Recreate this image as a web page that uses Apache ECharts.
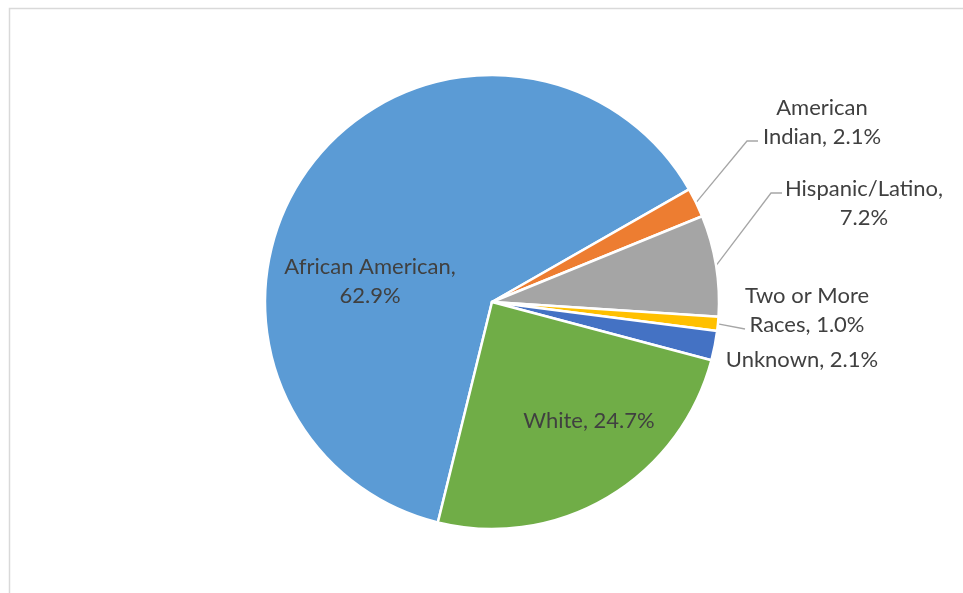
<!DOCTYPE html>
<html>
<head>
<meta charset="utf-8">
<script src="https://cdn.jsdelivr.net/npm/echarts@6/dist/echarts.min.js"></script>
<style>
  html, body { margin: 0; padding: 0; background: #fff; }
  #chart { width: 963px; height: 593px; }
</style>
</head>
<body>
<div id="chart"></div>
<script>
// Enrollment share by race / ethnicity (percent)
const categories = ['African American', 'American Indian', 'Hispanic/Latino', 'Two or More Races', 'Unknown', 'White'];
const shares = [62.9, 2.1, 7.2, 1.0, 2.1, 24.7];
const colors = ['#5B9BD5', '#ED7D31', '#A5A5A5', '#FFC000', '#4472C4', '#70AD47'];
// Where each label wraps onto a second line (text before the break)
const labelBreaks = ['African American,', 'American', 'Hispanic/Latino,', 'Two or More', null, null];

// Label placement: centre of each label block, and for leader lines the elbow/end offsets
const labelSpots = [
  { x: 370, y: 281, inside: true },
  { x: 822, y: 122, line: [[747, 141], [758, 141]] },
  { x: 864, y: 203, line: [[771, 193], [782, 193]] },
  { x: 807, y: 310, line: [[745, 329]] },
  { x: 802, y: 360 },
  { x: 589, y: 421, inside: true }
];

function labelText(name, value, brk) {
  const s = name + ', ' + value.toFixed(1) + '%';
  if (brk && s.startsWith(brk + ' ')) return brk + '\n' + s.slice(brk.length + 1);
  return s;
}

const chart = echarts.init(document.getElementById('chart'));
chart.setOption({
  animation: false,
  backgroundColor: '#ffffff',
  graphic: [{
    type: 'rect',
    shape: { x: 9.5, y: 8.5, width: 1000, height: 700 },
    style: { fill: 'none', stroke: '#D9D9D9', lineWidth: 1.5 },
    silent: true
  }],
  series: [{
    type: 'pie',
    center: [492, 302],
    radius: [0, 227],
    startAngle: 256.2,
    clockwise: true,
    avoidLabelOverlap: false,
    itemStyle: { borderColor: '#ffffff', borderWidth: 2.5 },
    label: {
      fontFamily: 'Lato',
      fontSize: 22,
      lineHeight: 29,
      color: '#404040',
      align: 'center',
      formatter: p => labelText(p.name, p.value, labelBreaks[p.dataIndex])
    },
    labelLine: {
      show: true,
      length: 20,
      length2: 10,
      lineStyle: { color: '#A6A6A6', width: 1.3 }
    },
    labelLayout: function (params) {
      const spot = labelSpots[params.dataIndex];
      const out = { x: spot.x, y: spot.y, align: 'center', verticalAlign: 'middle' };
      if (spot.line && params.labelLinePoints) {
        out.labelLinePoints = [params.labelLinePoints[0]].concat(spot.line);
      }
      return out;
    },
    data: categories.map((name, i) => ({
      name: name,
      value: shares[i],
      itemStyle: { color: colors[i] },
      label: { position: labelSpots[i].inside ? 'inside' : 'outside' },
      labelLine: { show: !!labelSpots[i].line }
    }))
  }]
});
</script>
</body>
</html>
